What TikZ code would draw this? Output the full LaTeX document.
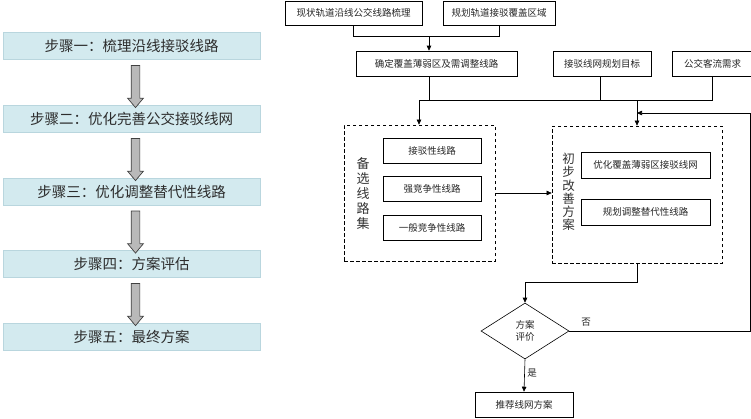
\documentclass[tikz,border=0pt]{standalone}
\usepackage{fontspec}
\setmainfont{Noto Sans CJK SC}
\usetikzlibrary{shapes.geometric,shapes.arrows,arrows.meta,calc,shadows}
\definecolor{stepfill}{RGB}{211,234,239}
\definecolor{stepedge}{RGB}{185,214,222}
\definecolor{txtgray}{RGB}{45,45,45}
\begin{document}
\begin{tikzpicture}[x=1pt,y=-1pt,
  stepbox/.style={draw=stepedge,fill=stepfill,line width=0.6pt,minimum width=257pt,minimum height=27pt,inner sep=0pt,
    font=\fontsize{14.5}{16}\selectfont,text=txtgray,
    drop shadow={shadow xshift=1.2pt,shadow yshift=-1.2pt,fill=gray!45,opacity=0.7}},
  blockarr/.style={single arrow,draw=black!75,fill=gray!55,line width=0.7pt,minimum width=15pt,
    single arrow head extend=3.5pt,single arrow tip angle=80,inner sep=4pt,minimum height=42pt,rotate=-90},
  pbox/.style={draw,line width=0.6pt,minimum height=25pt,inner sep=0pt,font=\fontsize{9.5}{11}\selectfont,text=black!85},
  dbox/.style={draw,dashed,dash pattern=on 3.5pt off 2.5pt,line width=0.7pt,inner sep=0pt},
  vlabel/.style={align=center,inner sep=0pt,text=black!80},
  conn/.style={draw,line width=0.6pt},
  arr/.style={conn,-{Triangle[length=5pt,width=4.5pt]}},
  lbl/.style={font=\fontsize{9.5}{11}\selectfont,inner sep=0pt,text=black!85}]
\useasboundingbox (0,0) rectangle (751,418);
\fill[white] (0,0) rectangle (751,418);

% left column
\node[stepbox] (s1) at (131.5,45.5) {步骤一：梳理沿线接驳线路};
\node[stepbox] (s2) at (131.5,118.5) {步骤二：优化完善公交接驳线网};
\node[stepbox] (s3) at (131.5,191.5) {步骤三：优化调整替代性线路};
\node[stepbox] (s4) at (131.5,263.5) {步骤四：方案评估};
\node[stepbox] (s5) at (131.5,336.5) {步骤五：最终方案};
\node[blockarr] (a1) at ($(s1.south)!0.5!(s2.north)+(4,2)$) {};
\node[blockarr] (a2) at ($(s2.south)!0.5!(s3.north)+(4,2)$) {};
\node[blockarr] (a3) at ($(s3.south)!0.5!(s4.north)+(4,2)$) {};
\node[blockarr] (a4) at ($(s4.south)!0.5!(s5.north)+(4,2)$) {};

% right flowchart
\node[pbox,minimum width=137pt,minimum height=24pt] (A) at (353.5,13) {现状轨道沿线公交线路梳理};
\node[pbox,minimum width=112pt,minimum height=24pt] (B) at (499,13) {规划轨道接驳覆盖区域};
\node[pbox,minimum width=161pt] (C) at (436.5,63.5) {确定覆盖薄弱区及需调整线路};
\node[pbox,minimum width=98pt] (D) at (602,63.5) {接驳线网规划目标};
\node[pbox,minimum width=81pt] (E) at (712.5,63.5) {公交客流需求};

\node[dbox,minimum width=151pt,minimum height=136pt] (F) at (419.5,193) {};
\node[pbox,minimum width=98pt] (F1) at (432,150.5) {接驳性线路};
\node[pbox,minimum width=98pt] (F2) at (432,188.5) {强竞争性线路};
\node[pbox,minimum width=98pt] (F3) at (432,227.5) {一般竞争性线路};
\node[vlabel,font=\fontsize{13}{15}\selectfont] (FL) at (363,193.5) {备\\选\\线\\路\\集};

\node[dbox,minimum width=170pt,minimum height=137pt] (G) at (637,194.5) {};
\node[pbox,minimum width=129pt,minimum height=26pt] (G1) at (645.5,165) {优化覆盖薄弱区接驳线网};
\node[pbox,minimum width=129pt,minimum height=26pt] (G2) at (645.5,212) {规划调整替代性线路};
\node[vlabel,font=\fontsize{12.5}{13.2}\selectfont] (GL) at (568.5,192) {初\\步\\改\\善\\方\\案};

\node[diamond,draw,line width=0.6pt,minimum width=88pt,minimum height=56pt,inner sep=0pt,aspect=1.57,
  align=center,font=\fontsize{9.5}{12}\selectfont,text=black!85] (H) at (525,331) {方案\\评价};
\node[pbox,minimum width=98pt] (K) at (524,404.5) {推荐线网方案};

\coordinate (busC) at (429,100.7);
\coordinate (busL) at (419,100.7);
\coordinate (busR) at (637,100.7);
\coordinate (fbR) at (750,113);
\coordinate (fbB) at (750,331);
\coordinate (jA) at (353.5,36.7);
\coordinate (jB) at (499,36.7);
\coordinate (jm) at (429,36.7);
\coordinate (g1) at (637,282.7);
\coordinate (g2) at (525,282.7);

\draw[conn] (A.south) -- (jA) -- (jB) -- (B.south);
\draw[arr] (jm) -- (jm |- C.north);
\draw[conn] (busC |- C.south) -- (busC);
\draw[conn] (busL) -- (busL -| E.south);
\draw[conn] (D.south -| 600,0) -- (600,100.7);
\draw[conn] (E.south) -- (E.south |- busL);
\draw[arr] (busL) -- (busL |- F.north);
\draw[arr] (busR) -- (busR |- G.north);
\draw[arr] (F.east |- 0,193) -- (G.west |- 0,193);
\draw[conn] (G.south) -- (g1) -- (g2);
\draw[arr] (g2) -- (H.north);
\draw[conn] (H.east) -- (fbB) -- (fbR);
\draw[arr] (fbR) -- (fbR -| busR);
\draw[arr] (H.south) -- (K.north);
\node[lbl] (no) at (586,322) {否};
\node[lbl] (yes) at (532,373) {是};
\end{tikzpicture}
\end{document}
